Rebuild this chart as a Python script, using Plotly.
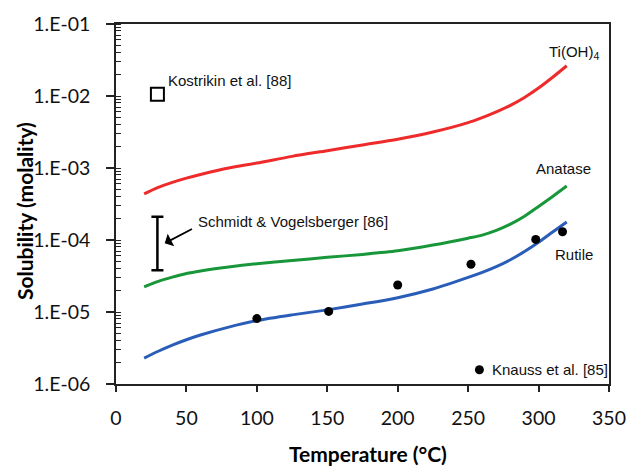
import plotly.graph_objects as go

# ---- data ----
temp = [20, 30, 40, 50, 60, 80, 100, 125, 150, 175, 200, 225, 250, 260, 270, 280, 290, 300, 310, 320]
tioh4 = [4.37e-4, 5.37e-4, 6.31e-4, 7.24e-4, 8.13e-4, 1.0e-3, 1.17e-3, 1.45e-3, 1.74e-3,
         2.09e-3, 2.51e-3, 3.16e-3, 4.27e-3, 5.01e-3, 6.03e-3, 7.41e-3, 9.55e-3, 1.29e-2,
         1.82e-2, 2.63e-2]
anatase = [2.24e-5, 2.66e-5, 3.05e-5, 3.43e-5, 3.72e-5, 4.22e-5, 4.68e-5, 5.19e-5, 5.75e-5,
           6.31e-5, 7.08e-5, 8.51e-5, 1.06e-4, 1.17e-4, 1.36e-4, 1.66e-4, 2.14e-4, 2.92e-4,
           4.03e-4, 5.62e-4]
rutile = [2.29e-6, 2.85e-6, 3.47e-6, 4.12e-6, 4.79e-6, 6.17e-6, 7.59e-6, 9.12e-6, 1.07e-5,
          1.29e-5, 1.58e-5, 2.09e-5, 3.02e-5, 3.55e-5, 4.27e-5, 5.31e-5, 6.92e-5, 9.33e-5,
          1.29e-4, 1.78e-4]

knauss_t = [100, 151, 200, 252, 298, 317]
knauss_s = [8.1e-6, 1.02e-5, 2.37e-5, 4.6e-5, 1.02e-4, 1.3e-4]

kostrikin_t = [29.4]
kostrikin_s = [1.06e-2]

schmidt_t = [29.4]
schmidt_mid = [1.0e-4]
schmidt_hi = [2.1e-4]
schmidt_lo = [3.8e-5]

legend_dot_t = [258]
legend_dot_s = [1.58e-6]

ytick_vals = [1e-6, 1e-5, 1e-4, 1e-3, 1e-2, 1e-1]
ytick_text = ["1.E-06", "1.E-05", "1.E-04", "1.E-03", "1.E-02", "1.E-01"]

RED = "#EE2A2A"
GREEN = "#17973A"
BLUE = "#2A5DB8"
ANN_FONT = dict(family="Liberation Sans, Arial", size=15, color="#111111")

fig = go.Figure()
for ys, col in [(tioh4, RED), (anatase, GREEN), (rutile, BLUE)]:
    fig.add_trace(go.Scatter(x=temp, y=ys, mode="lines",
                             line=dict(color=col, width=3, shape="spline", smoothing=0.8),
                             hoverinfo="skip"))

fig.add_trace(go.Scatter(x=knauss_t, y=knauss_s, mode="markers",
                         marker=dict(color="black", size=9)))
fig.add_trace(go.Scatter(x=legend_dot_t, y=legend_dot_s, mode="markers",
                         marker=dict(color="black", size=9)))
fig.add_trace(go.Scatter(x=kostrikin_t, y=kostrikin_s, mode="markers",
                         marker=dict(symbol="square-open", color="black", size=13,
                                     line=dict(width=2))))
fig.add_trace(go.Scatter(
    x=schmidt_t, y=schmidt_mid, mode="markers",
    marker=dict(size=1, color="rgba(0,0,0,0)"),
    error_y=dict(type="data", symmetric=False,
                 array=[schmidt_hi[0] - schmidt_mid[0]],
                 arrayminus=[schmidt_mid[0] - schmidt_lo[0]],
                 color="black", thickness=2.5, width=6)))

anns = [
    dict(x=325, y=-1.389, text="Ti(OH)<sub>4</sub>", xanchor="center", yanchor="middle"),
    dict(x=318, y=-3.0, text="Anatase", xanchor="center", yanchor="middle"),
    dict(x=325, y=-4.208, text="Rutile", xanchor="center", yanchor="middle"),
    dict(x=35.5, y=-1.778, text="Kostrikin et al. [88]", xanchor="left", yanchor="middle"),
    dict(x=57, y=-3.746, text="Schmidt &amp; Vogelsberger [86]", xanchor="left", yanchor="middle"),
    dict(x=265.8, y=-5.80, text="Knauss et al. [85]", xanchor="left", yanchor="middle"),
]
for a in anns:
    fig.add_annotation(xref="x", yref="y", showarrow=False, font=ANN_FONT, **a)

# arrow pointing to the error bar
fig.add_annotation(xref="x", yref="y", axref="x", ayref="y",
                   x=34.6, y=-4.046, ax=55, ay=-3.837, text="",
                   showarrow=True, arrowhead=1, arrowsize=1.3, arrowwidth=1.8,
                   arrowcolor="black")

# axis titles
fig.add_annotation(xref="paper", yref="paper", x=0.512, y=-0.192, yanchor="middle",
                   text="<b>Temperature (°C)</b>", showarrow=False,
                   font=dict(family="Lato", size=21, color="black"))
fig.add_annotation(xref="paper", yref="paper", x=-0.187, y=0.48, xanchor="center",
                   yanchor="middle",
                   text="<b>Solubility (molality)</b>", textangle=-90, showarrow=False,
                   font=dict(family="Lato", size=21, color="black"))

axis_line = dict(showline=True, linecolor="#222222", linewidth=1.5, mirror=True,
                 showgrid=False, zeroline=False, ticks="outside", tickcolor="#222222",
                 tickwidth=1.5, tickfont=dict(family="Lato", size=19.5, color="#111111"))

fig.update_xaxes(range=[0, 350], dtick=50, tick0=0, ticklen=6, ticklabelstandoff=10,
                 **axis_line)
fig.update_yaxes(type="log", range=[-6, -1], tickvals=ytick_vals, ticktext=ytick_text,
                 ticklen=8, ticklabelstandoff=12,
                 minor=dict(ticks="inside", ticklen=5, dtick="D1", tickcolor="#222222",
                            tickwidth=1.2, showgrid=False),
                 **axis_line)

fig.update_layout(width=638, height=466, showlegend=False,
                  margin=dict(l=116, r=19, t=24, b=82),
                  plot_bgcolor="white", paper_bgcolor="white")

fig.write_html("out.html", config={"displayModeBar": False},
               post_script="document.body.style.margin='0px';document.body.style.padding='0px';")
